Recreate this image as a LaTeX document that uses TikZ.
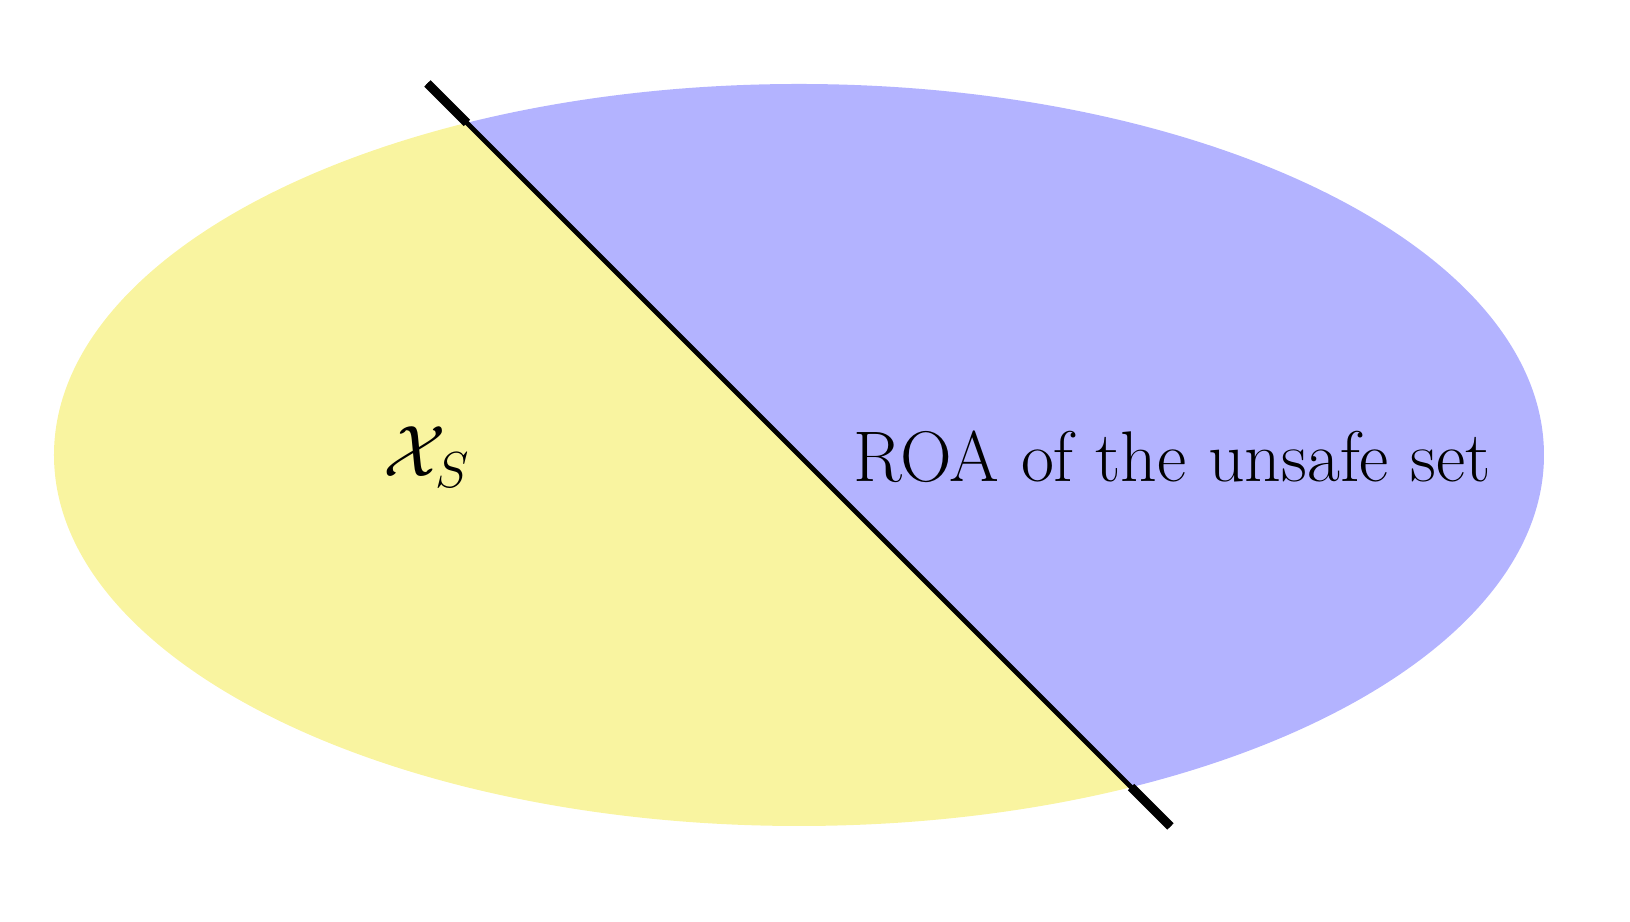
\documentclass[tikz,border=0pt]{standalone}
\usetikzlibrary{calc}
\definecolor{safeyellow}{RGB}{249,244,160}
\definecolor{roablue}{RGB}{179,179,255}
\tikzset{
  region/.style={draw=none},
  splitthin/.style={draw=black, line width=1.4pt, line cap=butt},
  splitthick/.style={draw=black, line width=2.6pt, line cap=butt},
  lbl/.style={inner sep=0pt, anchor=base, font=\fontsize{20.4}{24}\selectfont}
}
\begin{document}
\begin{tikzpicture}
\useasboundingbox (-7.99,-4.67) rectangle (8.31,4.55);
% yellow half
\begin{scope}
  \clip (-10,10) -- (10,-10) -- (-10,-10) -- cycle;
  \fill[safeyellow, region] (0,0) ellipse [x radius=7.45, y radius=3.71];
\end{scope}
% blue half
\begin{scope}
  \clip (-10,10) -- (10,-10) -- (10,10) -- cycle;
  \fill[roablue, region] (0,0) ellipse [x radius=7.45, y radius=3.71];
\end{scope}
\coordinate (top) at (-3.715,3.715);
\coordinate (bot) at (3.715,-3.715);
\coordinate (itop) at (-3.321,3.321);
\coordinate (ibot) at (3.321,-3.321);
\draw[splitthin] (top) -- (bot);
\draw[splitthick] (top) -- (itop);
\draw[splitthick] (ibot) -- (bot);
\node[lbl] (xs) at (-3.72,-0.22) {$\mathcal{X}_S$};
\node[lbl] (roa) at (3.73,-0.27) {ROA of the unsafe set};
\end{tikzpicture}
\end{document}
